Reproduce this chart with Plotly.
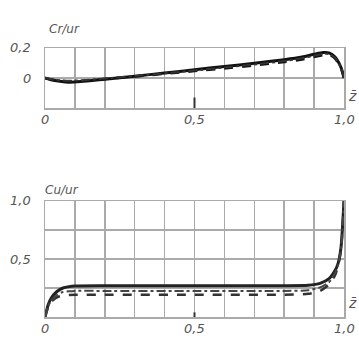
import plotly.graph_objects as go

# top panel: Cr/ur vs z
z_top = [0, 0.02, 0.05, 0.08, 0.12, 0.2, 0.3, 0.4, 0.5, 0.6, 0.7, 0.8, 0.86, 0.9, 0.93, 0.95, 0.97, 0.99, 1.0]
cr_solid = [0.0, -0.012, -0.022, -0.028, -0.024, -0.008, 0.012, 0.033, 0.055, 0.077, 0.098, 0.122, 0.14, 0.158, 0.17, 0.168, 0.14, 0.07, 0.0]
cr_dash = [0.0, -0.01, -0.018, -0.022, -0.02, -0.006, 0.01, 0.028, 0.046, 0.064, 0.084, 0.106, 0.124, 0.14, 0.152, 0.155, 0.13, 0.065, 0.0]
cr_dot = [0.0, -0.008, -0.015, -0.018, -0.016, -0.003, 0.013, 0.031, 0.05, 0.07, 0.09, 0.113, 0.132, 0.148, 0.16, 0.16, 0.135, 0.068, 0.0]

# bottom panel: Cu/ur vs z
z_bot = [0, 0.01, 0.02, 0.04, 0.06, 0.08, 0.1, 0.2, 0.5, 0.8, 0.88, 0.92, 0.95, 0.97, 0.98, 0.99, 1.0]
cu_solid = [0.0, 0.1, 0.16, 0.22, 0.25, 0.262, 0.268, 0.27, 0.27, 0.27, 0.274, 0.29, 0.33, 0.4, 0.46, 0.6, 1.0]
cu_dot = [0.0, 0.09, 0.14, 0.19, 0.215, 0.222, 0.225, 0.225, 0.225, 0.225, 0.23, 0.255, 0.3, 0.38, 0.45, 0.59, 1.0]
cu_dash = [0.0, 0.08, 0.13, 0.17, 0.185, 0.19, 0.192, 0.192, 0.192, 0.192, 0.2, 0.225, 0.28, 0.36, 0.44, 0.58, 1.0]

x_ticks = ["0", "0,5", "1,0"]
x_tickvals = [0, 0.5, 1.0]
top_ytext = ["0,2", "0"]
top_yvals = [0.2, 0.0]
bot_ytext = ["1,0", "0,5"]
bot_yvals = [1.0, 0.5]

W, H = 359, 347
fig = go.Figure()

def add(x, y, axis, dash, width, color="#111"):
    fig.add_trace(go.Scatter(x=x, y=y, mode="lines", xaxis="x" + axis, yaxis="y" + axis,
                             line=dict(color=color, width=width, dash=dash, shape="spline", smoothing=0.6),
                             showlegend=False, hoverinfo="skip"))

add(z_top, cr_solid, "", "solid", 3)
add(z_top, cr_dash, "", "dash", 2.5)
add(z_top, cr_dot, "", "dashdot", 2, "#333")
add(z_bot, cu_solid, "2", "solid", 3, "#222")
add(z_bot, cu_dash, "2", "dash", 2.5, "#333")
add(z_bot, cu_dot, "2", "dashdot", 2, "#444")

grid = "#aaaaaa"
xd = [45 / W, 344 / W]
common_x = dict(range=[0, 1], dtick=0.1, tick0=0, showgrid=True, gridcolor=grid, gridwidth=1.5,
                showline=True, linecolor=grid, linewidth=1.5, mirror=True, showticklabels=False,
                zeroline=False, domain=xd, fixedrange=True)
fig.update_layout(
    width=W, height=H, margin=dict(l=0, r=0, t=0, b=0),
    paper_bgcolor="white", plot_bgcolor="white",
    xaxis=dict(common_x, anchor="y"),
    yaxis=dict(range=[-0.2, 0.2], dtick=0.2, tick0=0, showgrid=True, gridcolor=grid, gridwidth=1.5,
               showline=True, linecolor=grid, linewidth=1.5, mirror=True, showticklabels=False,
               zeroline=False, domain=[1 - 108 / H, 1 - 48 / H], anchor="x"),
    xaxis2=dict(common_x, anchor="y2"),
    yaxis2=dict(range=[0, 1], dtick=0.25, tick0=0, showgrid=True, gridcolor=grid, gridwidth=1.5,
                showline=True, linecolor=grid, linewidth=1.5, mirror=True, showticklabels=False,
                zeroline=False, domain=[1 - 317 / H, 1 - 201 / H], anchor="x2"),
)

font = dict(family="DejaVu Sans", size=13, color="#555")
ann = []
for xv, t in zip(x_tickvals, x_ticks):
    ann.append(dict(x=xv, y=-0.2, xref="x", yref="y", text="<i>" + t + "</i>", showarrow=False,
                    yanchor="top", yshift=-2, font=font))
    ann.append(dict(x=xv, y=0, xref="x2", yref="y2", text="<i>" + t + "</i>", showarrow=False,
                    yanchor="top", yshift=-2, font=font))
for yv, t in zip(top_yvals, top_ytext):
    ann.append(dict(x=0, y=yv, xref="x", yref="y", text="<i>" + t + "</i>", showarrow=False,
                    xanchor="right", xshift=-12, font=font))
for yv, t in zip(bot_yvals, bot_ytext):
    ann.append(dict(x=0, y=yv, xref="x2", yref="y2", text="<i>" + t + "</i>", showarrow=False,
                    xanchor="right", xshift=-12, font=font))
ann.append(dict(x=0, y=0.2, xref="x", yref="y", text="<i>Cr/ur</i>", showarrow=False,
                xanchor="left", yanchor="bottom", xshift=2, yshift=10, font=dict(font, size=12)))
ann.append(dict(x=0, y=1.0, xref="x2", yref="y2", text="<i>Cu/ur</i>", showarrow=False,
                xanchor="left", yanchor="bottom", xshift=-2, yshift=2, font=dict(font, size=12)))
ann.append(dict(x=1, y=-0.12, xref="x", yref="y", text="<i>z̄</i>", showarrow=False,
                xanchor="left", xshift=2, font=dict(font, size=14)))
ann.append(dict(x=1, y=0.12, xref="x2", yref="y2", text="<i>z̄</i>", showarrow=False,
                xanchor="left", xshift=2, font=dict(font, size=14)))
fig.update_layout(annotations=ann)

# small tick marks at z = 0.5
fig.add_shape(type="line", xref="x", yref="y", x0=0.5, x1=0.5, y0=-0.13, y1=-0.27,
              line=dict(color="#333", width=2))
fig.add_shape(type="line", xref="x2", yref="y2", x0=0.5, x1=0.5, y0=0.04, y1=-0.07,
              line=dict(color="#333", width=2))

fig.write_html("out.html", config={"displayModeBar": False, "staticPlot": True},
               post_script="document.body.style.margin='0';document.body.style.overflow='hidden';")
